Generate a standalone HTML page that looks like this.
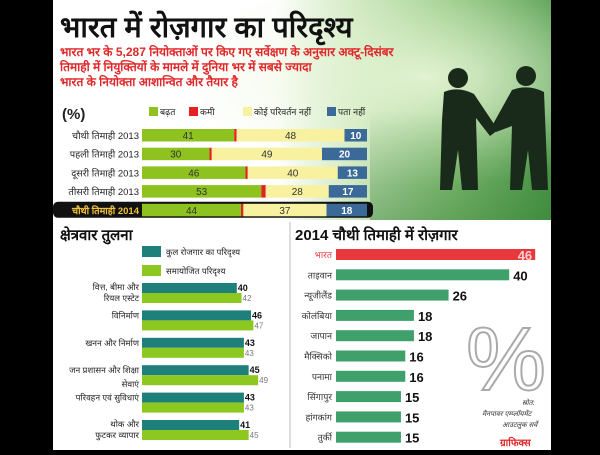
<!DOCTYPE html>
<html><head><meta charset="utf-8">
<style>
html,body{margin:0;padding:0;background:#000;}
body{width:600px;height:450px;overflow:hidden;font-family:"Liberation Sans","Noto Sans CJK SC",sans-serif;}
svg text{font-family:"Liberation Sans","Noto Sans CJK SC",sans-serif;}
</style></head>
<body>
<svg id="c" width="600" height="450" viewBox="0 0 600 450" xmlns="http://www.w3.org/2000/svg">
<defs>
<linearGradient id="topbg" x1="0" x2="1" y1="0" y2="0">
<stop offset="0" stop-color="#ffffff"/><stop offset="0.45" stop-color="#ffffff"/>
<stop offset="0.6" stop-color="#cfe8c0"/><stop offset="0.8" stop-color="#8cc47a"/><stop offset="1" stop-color="#4f9a4a"/>
</linearGradient>
<linearGradient id="topbg2" x1="0" x2="0" y1="0" y2="1">
<stop offset="0.5" stop-color="#2e7a32" stop-opacity="0"/><stop offset="1" stop-color="#2e7a32" stop-opacity="0.45"/>
</linearGradient>
<radialGradient id="glow" cx="0.75" cy="0.35" r="0.5"><stop offset="0" stop-color="#e8f6d8" stop-opacity="0.9"/><stop offset="1" stop-color="#e8f6d8" stop-opacity="0"/></radialGradient>
</defs>
<rect x="0" y="0" width="600" height="450" fill="#000"/>
<rect x="53" y="0" width="498" height="220" fill="url(#topbg)"/>
<rect x="53" y="0" width="498" height="220" fill="url(#glow)"/>
<rect x="370" y="0" width="181" height="220" fill="url(#topbg2)"/>
<rect x="53" y="220" width="498" height="230" fill="#fff"/>
<g fill="#1a2a1a">
<circle cx="458" cy="78" r="10"/><path d="M444 92 Q458 86 474 94 L498 130 L490 136 L476 118 L478 190 L462 190 L458 150 L452 190 L440 190 L442 120 Z"/>
<circle cx="526" cy="76" r="10"/><path d="M512 90 Q528 84 544 92 L548 190 L532 190 L528 150 L522 190 L510 190 L512 126 L496 132 L492 126 Z"/>
</g>
<text x="60" y="37" font-size="29" font-weight="bold" fill="#111">भारत में रोज़गार का परिदृश्य</text>
<g font-size="12" font-weight="bold" fill="#e0282a">
<text x="60" y="56">भारत भर के 5,287 नियोक्ताओं पर किए गए सर्वेक्षण के अनुसार अक्टू-दिसंबर</text>
<text x="60" y="71">तिमाही में नियुक्तियों के मामले में दुनिया भर में सबसे ज्यादा</text>
<text x="60" y="86">भारत के नियोक्ता आशान्वित और तैयार है</text>
</g>
<text x="62" y="119" font-size="15" font-weight="bold" fill="#222">(%)</text>
<g id="topChart"></g>
<line x1="290" y1="222" x2="290" y2="448" stroke="#bbb" stroke-width="1"/>
<text x="60" y="240" font-size="15" font-weight="bold" fill="#111">क्षेत्रवार तुलना</text>
<g id="leftChart"></g>
<text x="295" y="240" font-size="15" font-weight="bold" fill="#111">2014 चौथी तिमाही में रोज़गार</text>
<g id="rightChart"></g>
<text x="466" y="390" font-size="90" fill="none" stroke="#aaa" stroke-width="2">%</text>
<g font-size="7" fill="#333" font-style="italic">
<text x="522" y="405">स्रोत:</text><text x="482" y="416">मैनपावर एम्प्लॉयमेंट</text><text x="502" y="427">आउटलुक सर्वे</text>
</g>
<text x="500" y="446" font-size="10" font-weight="bold" fill="#e0282a">ग्राफिक्स</text>
</svg>
<script>
const NS="http://www.w3.org/2000/svg";
function mk(p,t,a,txt){const e=document.createElementNS(NS,t);for(const k in a)e.setAttribute(k,a[k]);if(txt!==undefined)e.textContent=txt;p.appendChild(e);return e;}

// ---- Top stacked chart data
const topRows=["चौथी तिमाही 2013","पहली तिमाही 2013","दूसरी तिमाही 2013","तीसरी तिमाही 2013","चौथी तिमाही 2014"];
const increase=[41,30,46,53,44];
const decrease=[1,1,1,2,1];
const noChange=[48,49,40,28,37];
const unknown=[10,20,13,17,18];
const topLegend=["बढ़त","कमी","कोई परिवर्तन नहीं","पता नहीं"];

// ---- Sector data
const sectors=["वित्त, बीमा और | रियल एस्टेट","विनिर्माण","खनन और निर्माण","जन प्रशासन और शिक्षा / सेवाएं","परिवहन एवं सुविधाएं","थोक और | फुटकर व्यापार"];
const totalOutlook=[40,46,43,45,43,41];
const seasonalOutlook=[42,47,43,49,43,45];
const sectorLegend=["कुल रोजगार का परिदृश्य","समायोजित परिदृश्य"];

// ---- Country data
const countries=["भारत","ताइवान","न्यूजीलैंड","कोलंबिया","जापान","मैक्सिको","पनामा","सिंगापुर","हांगकांग","तुर्की"];
const countryValues=[46,40,26,18,18,16,16,15,15,15];

// ---------- top chart
const topG=document.getElementById('topChart');
const tx=v=>142+v*2.25;
const colors=["#8dc21f","#e52020","#f7f1a0","#3b6a98"];
const lx=[160,200,254,338];
topLegend.forEach((l,i)=>{
  const s=mk(topG,'rect',{x:lx[i]-11,y:107,width:9,height:9,fill:colors[i]});
  
  
  const t=mk(topG,'text',{x:lx[i],y:115,'font-size':9,fill:'#222'},l);
  
  
});
const series=[increase,decrease,noChange,unknown];
topRows.forEach((r,i)=>{
  const y=129+i*18.7;
  const last=i===topRows.length-1;
  if(last){const hl=mk(topG,'rect',{x:53,y:y-2,width:320,height:16,rx:5,fill:'#111'});
    
    }
  const lab=mk(topG,'text',{x:139,y:y+10,'font-size':9.5,'text-anchor':'end',fill:last?'#f2c23a':'#222','font-weight':last?'bold':'normal'},r);
  
  
  let acc=0;
  series.forEach((s,j)=>{
    const v=s[i];
    const b=mk(topG,'rect',{x:tx(acc),y:y,width:v*2.25,height:12.5,fill:colors[j]});
    
    
    let cx=j===1?tx(acc+v)+4:tx(acc+v/2);
    const t=mk(topG,'text',{x:cx,y:y+10,'font-size':10,'text-anchor':'middle',fill:j===3?'#fff':'#333','font-weight':(j===1||j===3)?'bold':'normal'},v);
    
    
    acc+=v;
  });
});

// ---------- left chart
const leftG=document.getElementById('leftChart');
const lxs=v=>142+v*2.37;
const lc=["#1f7f7a","#8cc820"];
sectorLegend.forEach((l,i)=>{
  const s=mk(leftG,'rect',{x:142,y:246+i*19,width:19,height:11,fill:lc[i]});
  
  
  const t=mk(leftG,'text',{x:166,y:255+i*19,'font-size':8.5,fill:'#222'},l);
  
  
});
sectors.forEach((s,i)=>{
  const y=283+i*27.4;
  [totalOutlook,seasonalOutlook].forEach((arr,j)=>{
    const b=mk(leftG,'rect',{x:142,y:y+j*10,width:lxs(arr[i])-142,height:10,fill:lc[j]});
    
    
    const t=mk(leftG,'text',{x:lxs(arr[i])+1,y:y+8+j*10,'font-size':j?8:9,fill:j?'#777':'#111','font-weight':j?'normal':'bold'},arr[i]);
    
    
  });
  let l1,l2=null,y1=y+8,y2=y+22;
  if(s.includes(' | ')){[l1,l2]=s.split(' | ');y1=y+7;y2=y+18;}
  else if(s.includes(' / ')){[l1,l2]=s.split(' / ');}
  else l1=s;
  const lab=mk(leftG,'text',{x:139,y:y1,'font-size':8.5,'text-anchor':'end',fill:'#222'},l1);
  
  
  if(l2){const lb=mk(leftG,'text',{x:139,y:y2,'font-size':8.5,'text-anchor':'end',fill:'#222'},l2);
    
    }
});

// ---------- right chart
const rightG=document.getElementById('rightChart');
const rx=v=>336+v*4.33;
countries.forEach((c,i)=>{
  const y=249+i*20.3;
  const red=i===0;
  const b=mk(rightG,'rect',{x:336,y:y,width:rx(countryValues[i])-336,height:11,fill:red?'#e8383d':'#3fa06c'});
  
  
  const lab=mk(rightG,'text',{x:332,y:y+9,'font-size':9,'text-anchor':'end',fill:red?'#e8383d':'#333'},c);
  
  
  const t=mk(rightG,'text',{x:red?rx(countryValues[i])-3:rx(countryValues[i])+4,y:y+11,'font-size':13,'font-weight':'bold','text-anchor':red?'end':'start',fill:red?'#ffd0d0':'#111'},countryValues[i]);
  
  
});
</script>
</body></html>
